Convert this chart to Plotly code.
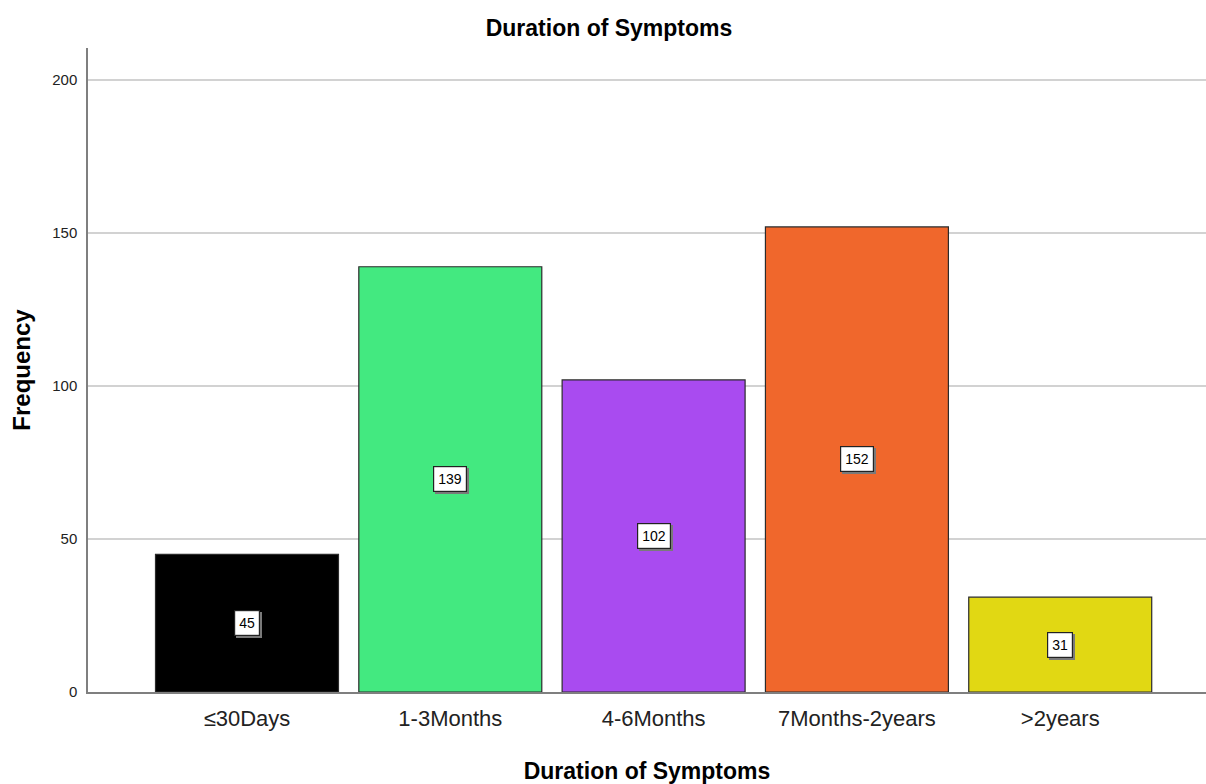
import plotly.graph_objects as go

# Frequency of each symptom-duration category
categories = ["≤30Days", "1-3Months", "4-6Months", "7Months-2years", ">2years"]
frequency = [45, 139, 102, 152, 31]
bar_colors = ["#000000", "#43E980", "#A94BF0", "#F0672C", "#E1D813"]

y_ticks = [0, 50, 100, 150, 200]

FONT = "Liberation Sans, Arial, sans-serif"

fig = go.Figure()

fig.add_trace(go.Bar(
    x=list(range(len(categories))),
    y=frequency,
    width=0.9,
    marker=dict(color=bar_colors, line=dict(color="#2b2b2b", width=1.2)),
    hoverinfo="x+y",
    showlegend=False,
))

# value labels: white boxes with a small drop shadow, placed at mid-height of each bar
for i, v in enumerate(frequency):
    fig.add_annotation(
        x=i, y=v / 2, xref="x", yref="y", text=str(v), showarrow=False,
        font=dict(family=FONT, size=14, color="#7a7a7a"),
        bgcolor="#7a7a7a", bordercolor="#7a7a7a", borderwidth=1.2, borderpad=4,
        xshift=2, yshift=-2,
    )
    fig.add_annotation(
        x=i, y=v / 2, xref="x", yref="y", text=str(v), showarrow=False,
        font=dict(family=FONT, size=14, color="#000000"),
        bgcolor="#ffffff", bordercolor="#222222", borderwidth=1.2, borderpad=4,
    )

fig.update_layout(
    width=1206, height=784,
    margin=dict(l=88, r=0, t=48, b=92),
    paper_bgcolor="#ffffff", plot_bgcolor="#ffffff",
    font=dict(family=FONT, color="#000000"),
    title=dict(
        text="<b>Duration of Symptoms</b>",
        x=0.505, xanchor="center", y=1 - 28 / 784, yanchor="middle",
        font=dict(family=FONT, size=23, color="#000000"),
    ),
    bargap=0.1,
)

fig.update_xaxes(
    tickmode="array",
    tickvals=list(range(len(categories))),
    ticktext=categories,
    range=[-0.782, 4.717],
    showgrid=False, zeroline=False,
    showline=True, linecolor="#7f7f7f", linewidth=1.5,
    ticks="", tickfont=dict(family=FONT, size=22, color="#222222"),
    ticklabelstandoff=6,
    title=dict(text="<b>Duration of Symptoms</b>",
               font=dict(family=FONT, size=23, color="#000000"), standoff=34),
    automargin=False,
)

fig.update_yaxes(
    range=[0, 210.5],
    tickmode="array", tickvals=y_ticks,
    showgrid=True, gridcolor="#d2d2d2", gridwidth=2,
    zeroline=False,
    showline=True, linecolor="#7f7f7f", linewidth=1.5,
    ticks="", tickfont=dict(family=FONT, size=15, color="#222222"),
    ticklabelstandoff=6,
    title=dict(text="<b>Frequency</b>",
               font=dict(family=FONT, size=24, color="#000000"), standoff=15),
    automargin=False,
)

fig.write_html("out.html")
